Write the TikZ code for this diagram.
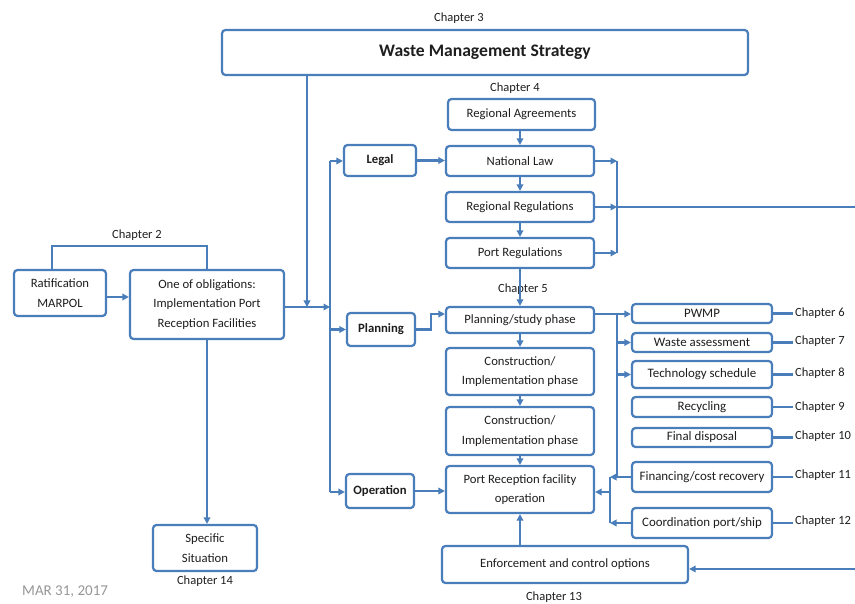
\documentclass[tikz,border=0pt]{standalone}
\usepackage{fontspec}
\setmainfont{Carlito}
\usetikzlibrary{arrows.meta,calc}
\definecolor{lineblue}{RGB}{74,126,187}
\definecolor{txt}{RGB}{30,30,30}
\definecolor{dategray}{RGB}{150,150,150}
\begin{document}
\begin{tikzpicture}[x=1pt,y=-1pt,
  box/.style={draw=lineblue, line width=2.2pt, rounded corners=3.5pt, fill=white, text=txt, align=center, inner sep=0pt, font=\fontsize{12.7}{19.5}\selectfont},
  bbox/.style={box, font=\bfseries\fontsize{12.7}{15}\selectfont},
  rbox/.style={box, minimum width=140pt, font=\fontsize{12.9}{15}\selectfont},
  conn/.style={draw=lineblue, line width=2.2pt},
  arr/.style={conn, -{Triangle[length=6.5pt,width=6.5pt]}},
  lbl/.style={text=txt, inner sep=1pt, font=\fontsize{12.5}{15}\selectfont},
  rlbl/.style={lbl, anchor=west, inner sep=2pt},
]
\useasboundingbox (0,0) rectangle (855,604);

% top
\node[lbl] (ch3) at (459,18) {Chapter 3};
\node[box, minimum width=526pt, minimum height=45pt, font=\bfseries\fontsize{17.6}{20}\selectfont] (wms) at (485,52.5) {Waste Management Strategy};
\node[lbl] (ch4) at (515,88) {Chapter 4};

% left
\node[lbl] (ch2) at (137,235) {Chapter 2};
\node[box, minimum width=92pt, minimum height=46pt] (rat) at (60,293) {Ratification\\MARPOL};
\node[box, minimum width=154pt, minimum height=69pt] (obl) at (207,304.5) {One of obligations:\\Implementation Port\\Reception Facilities};
\node[box, minimum width=104pt, minimum height=46pt] (spec) at (205,548) {Specific\\Situation};
\node[lbl] (ch14) at (205,581) {Chapter 14};
\node[lbl, text=dategray, anchor=west, font=\fontsize{15}{17}\selectfont] (date) at (21,592) {MAR 31, 2017};

% category boxes
\node[bbox, minimum width=72pt, minimum height=31pt] (legal) at (380,160.5) {Legal};
\node[bbox, minimum width=68pt, minimum height=33pt] (planning) at (381,329.5) {Planning};
\node[bbox, minimum width=68pt, minimum height=34pt] (operation) at (380,491) {Operation};

% central column
\node[box, minimum width=147pt, minimum height=31pt] (ra) at (521.5,114.5) {Regional Agreements};
\node[box, minimum width=148pt, minimum height=30pt] (nl) at (520,161) {National Law};
\node[box, minimum width=148pt, minimum height=30pt] (rr) at (520,207) {Regional Regulations};
\node[box, minimum width=148pt, minimum height=30pt] (pr) at (520,253) {Port Regulations};
\node[lbl] (ch5) at (523,289) {Chapter 5};
\node[box, minimum width=148pt, minimum height=26pt] (ps) at (520,320) {Planning/study phase};
\node[box, minimum width=148pt, minimum height=47pt] (c1) at (520,371.5) {Construction/\\Implementation phase};
\node[box, minimum width=148pt, minimum height=48pt] (c2) at (520,431) {Construction/\\Implementation phase};
\node[box, minimum width=148pt, minimum height=47pt] (prf) at (520,489.5) {Port Reception facility\\operation};
\node[box, minimum width=246pt, minimum height=37pt] (enf) at (565,564.5) {Enforcement and control options};
\node[lbl] (ch13) at (554,597) {Chapter 13};

% right column
\node[rbox, minimum height=19pt] (pwmp) at (702,313.5) {PWMP};
\node[rbox, minimum height=19pt] (wa) at (702,342.5) {Waste assessment};
\node[rbox, minimum height=27pt] (tech) at (702,374.5) {Technology schedule};
\node[rbox, minimum height=20pt] (rec) at (702,407) {Recycling};
\node[rbox, minimum height=19pt] (fd) at (702,437.5) {Final disposal};
\node[rbox, minimum height=30pt] (fin) at (702,477) {Financing/cost recovery};
\node[rbox, minimum height=30pt] (coord) at (702,523) {Coordination port/ship};

\node[rlbl] (ch6) at (793,313.5) {Chapter 6};
\node[rlbl] (ch7) at (793,341) {Chapter 7};
\node[rlbl] (ch8) at (793,373) {Chapter 8};
\node[rlbl] (ch9) at (793,407) {Chapter 9};
\node[rlbl] (ch10) at (793,436.5) {Chapter 10};
\node[rlbl] (ch11) at (793,475) {Chapter 11};
\node[rlbl] (ch12) at (793,521) {Chapter 12};

% coordinates
\coordinate (bj) at (330,307);
\coordinate (wj) at (307,307);
\coordinate (bt) at (330,161);
\coordinate (bb) at (330,492);
\coordinate (rb1) at (617,161);
\coordinate (rbm) at (617,207);
\coordinate (rb3) at (617,253);
\coordinate (re) at (855,207);
\coordinate (ee) at (855,569);
\coordinate (pb1) at (617,314);
\coordinate (pb2) at (617,477);
\coordinate (fb1) at (610,477);
\coordinate (fb2) at (610,523);
\coordinate (fbm) at (610,492);

% connectors left
\draw[conn] ([xshift=-8pt]rat.north) -- ++(0,-23) -| (obl.north);
\draw[arr] ([yshift=-4pt]rat.east) -- ([yshift=-4pt]rat.east -| obl.west);
\draw[arr] ([yshift=-2.5pt]obl.east) -- (bj);
\draw[arr] (wms.south -| wj) -- (wj);
\draw[arr] (obl.south) -- (spec.north -| obl.south);

% bus to categories
\draw[conn] (bt) -- (bb);
\draw[arr] (bt) -- (legal.west |- bt);
\draw[arr] (bt |- planning.west) -- (planning.west);
\draw[arr] (bb) -- (operation.west |- bb);
\draw[arr] (legal.east) -- (nl.west |- legal.east);
\draw[arr] (planning.east) -- ++(15,0) |- ([yshift=6pt]ps.west);
\draw[arr] (operation.east) -- (prf.west |- operation.east);

% central column
\draw[arr] (nl.north |- ra.south) -- (nl.north);
\draw[arr] (nl.south) -- (rr.north);
\draw[arr] (rr.south) -- (pr.north);
\draw[arr] (pr.south) -- (ps.north);
\draw[arr] (ps.south) -- (c1.north);
\draw[arr] (c1.south) -- (c2.north);
\draw[arr] (c2.south) -- (prf.north);
\draw[arr] (enf.north -| prf.south) -- (prf.south);

% legal right bus
\draw[arr] (nl.east) -- (rb1);
\draw[arr] (rr.east) -- (rbm);
\draw[arr] (pr.east) -- (rb3);
\draw[conn] (rb1) -- (rb3);
\draw[conn] (rbm) -- (re);
\draw[arr] (ee) -- (enf.east |- ee);

% planning right bus
\draw[conn] ([yshift=6pt]ps.east) -- (pb1) -- (pb2);
\draw[arr] (pb1) -- (pwmp.west |- pb1);
\draw[arr] (pb1 |- wa.west) -- (wa.west);
\draw[arr] (pb1 |- tech.west) -- (tech.west);
\draw[arr] (fin.west) -- (fb1);
\draw[arr] (coord.west) -- (fb2);
\draw[conn] (fb1) -- (fb2);
\draw[arr] (fbm) -- (prf.east |- fbm);

% chapter lines
\draw[conn] (pwmp.east) -- (pwmp.east -| ch6.west);
\draw[conn] (wa.east) -- (wa.east -| ch7.west);
\draw[conn] (tech.east) -- (tech.east -| ch8.west);
\draw[conn] (rec.east) -- (rec.east -| ch9.west);
\draw[conn] (fd.east) -- (fd.east -| ch10.west);
\draw[conn] (fin.east) -- (fin.east -| ch11.west);
\draw[conn] (coord.east) -- (coord.east -| ch12.west);
\end{tikzpicture}
\end{document}
